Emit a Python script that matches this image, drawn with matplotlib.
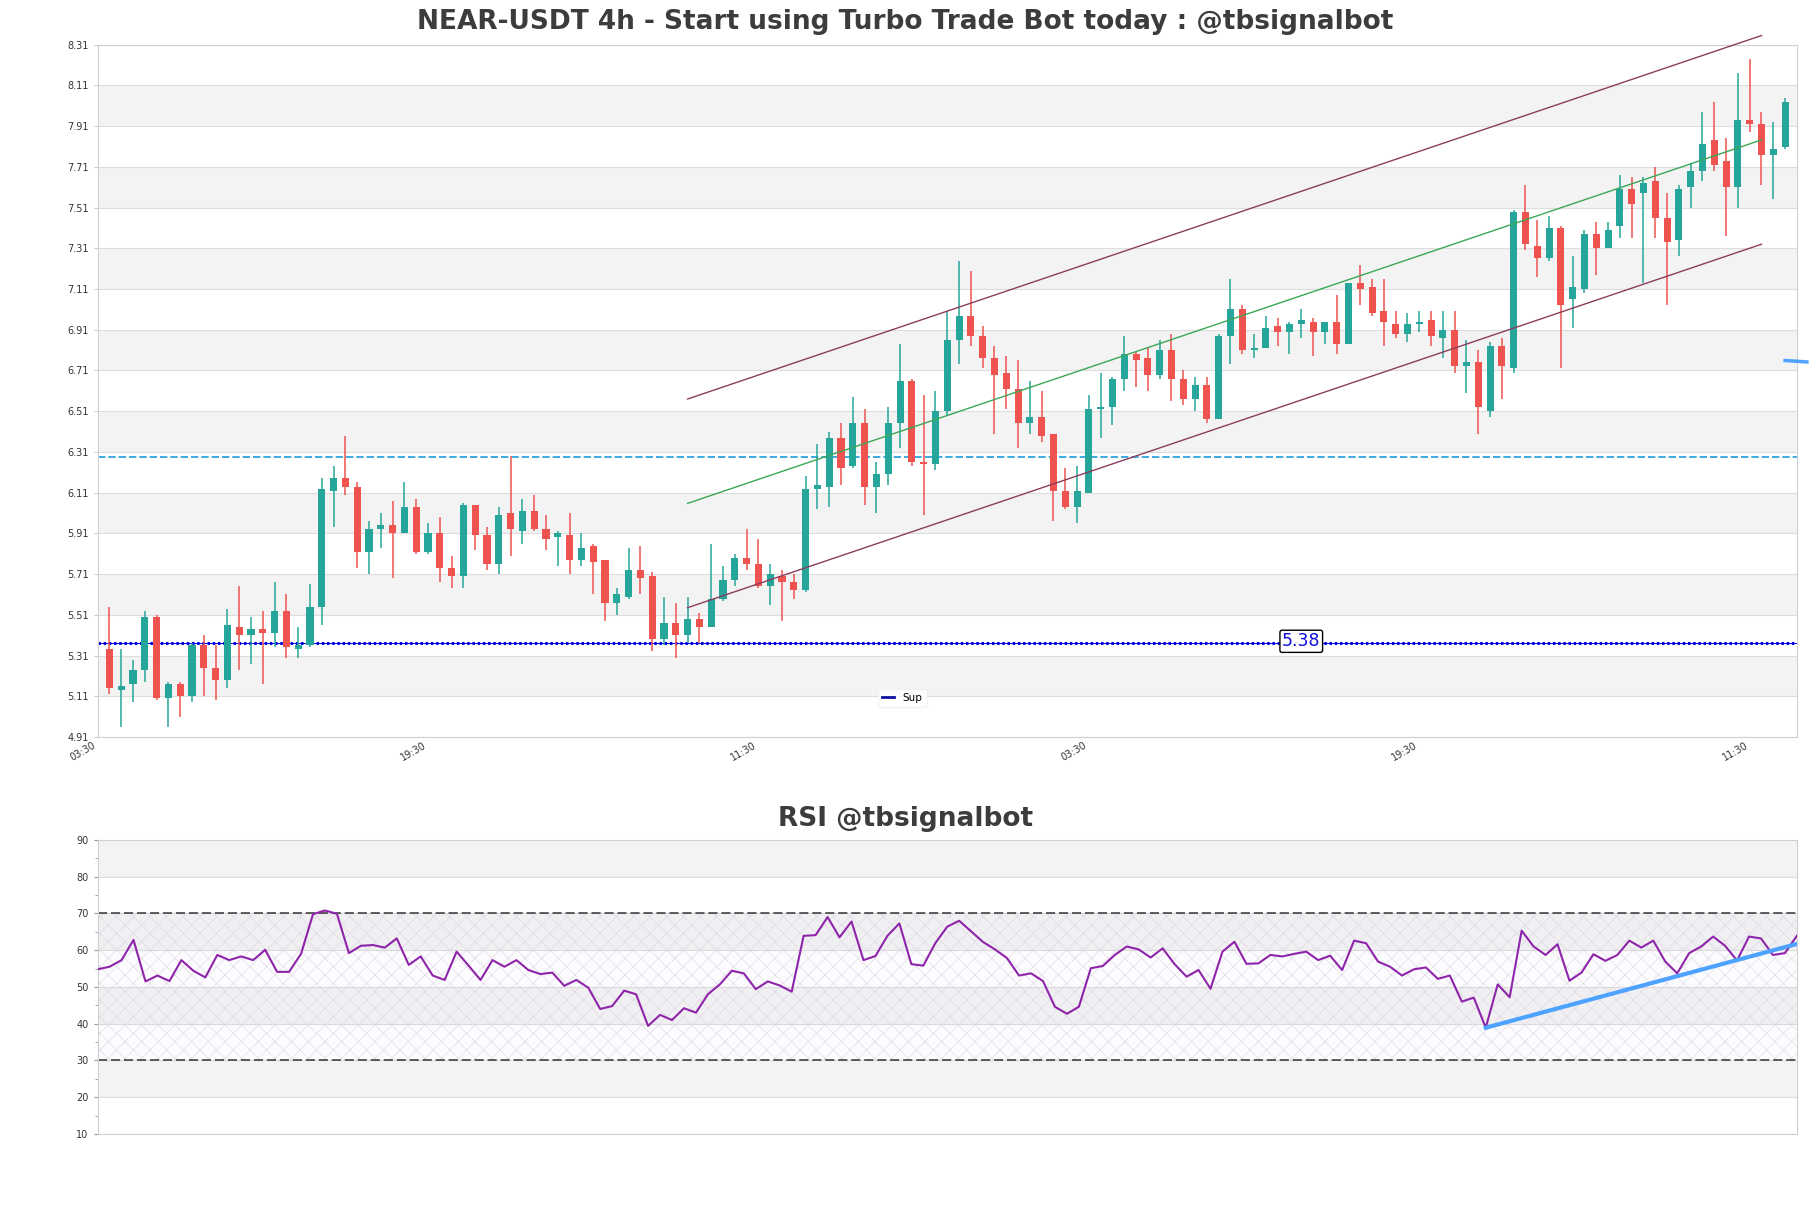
import numpy as np
import matplotlib
matplotlib.use('Agg')
import matplotlib.pyplot as plt
from matplotlib.lines import Line2D

# candle data (4h NEAR-USDT)
opens = [5.34, 5.14, 5.17, 5.24, 5.50, 5.10, 5.17, 5.11, 5.36, 5.25,
         5.19, 5.45, 5.41, 5.44, 5.42, 5.53, 5.34, 5.36, 5.55, 6.12,
         6.18, 6.14, 5.82, 5.93, 5.95, 5.91, 6.04, 5.82, 5.91, 5.74,
         5.70, 6.05, 5.90, 5.76, 6.01, 5.92, 6.02, 5.93, 5.89, 5.90,
         5.78, 5.85, 5.78, 5.57, 5.60, 5.73, 5.70, 5.39, 5.47, 5.41,
         5.49, 5.45, 5.59, 5.68, 5.79, 5.76, 5.65, 5.70, 5.67, 5.63,
         6.13, 6.14, 6.38, 6.24, 6.45, 6.14, 6.20, 6.45, 6.66, 6.26,
         6.25, 6.51, 6.86, 6.98, 6.88, 6.77, 6.70, 6.62, 6.45, 6.48,
         6.40, 6.12, 6.04, 6.11, 6.52, 6.53, 6.67, 6.79, 6.77, 6.69,
         6.81, 6.67, 6.57, 6.64, 6.47, 6.88, 7.01, 6.81, 6.82, 6.93,
         6.90, 6.94, 6.95, 6.90, 6.95, 6.84, 7.14, 7.12, 7.00, 6.94,
         6.89, 6.94, 6.96, 6.87, 6.91, 6.73, 6.75, 6.51, 6.83, 6.72,
         7.49, 7.32, 7.26, 7.41, 7.06, 7.11, 7.38, 7.31, 7.42, 7.60,
         7.58, 7.64, 7.46, 7.35, 7.61, 7.69, 7.84, 7.74, 7.61, 7.94,
         7.92, 7.77, 7.81]
highs = [5.55, 5.34, 5.29, 5.53, 5.51, 5.18, 5.18, 5.37, 5.41, 5.36,
         5.54, 5.65, 5.50, 5.53, 5.67, 5.61, 5.45, 5.66, 6.18, 6.24,
         6.39, 6.16, 5.97, 6.01, 6.07, 6.16, 6.08, 5.96, 5.99, 5.80,
         6.06, 6.05, 5.94, 6.04, 6.29, 6.08, 6.10, 6.00, 5.92, 6.01,
         5.91, 5.86, 5.78, 5.64, 5.84, 5.85, 5.72, 5.60, 5.57, 5.60,
         5.52, 5.86, 5.75, 5.81, 5.93, 5.88, 5.76, 5.73, 5.71, 6.19,
         6.35, 6.41, 6.45, 6.58, 6.52, 6.26, 6.53, 6.84, 6.67, 6.59,
         6.61, 7.00, 7.25, 7.20, 6.93, 6.83, 6.78, 6.76, 6.66, 6.61,
         6.40, 6.23, 6.24, 6.59, 6.70, 6.68, 6.88, 6.80, 6.82, 6.86,
         6.89, 6.71, 6.68, 6.68, 6.89, 7.16, 7.03, 6.89, 6.98, 6.97,
         6.95, 7.01, 6.97, 6.95, 7.08, 7.14, 7.23, 7.16, 7.16, 7.00,
         6.99, 7.00, 7.00, 7.00, 7.00, 6.86, 6.81, 6.85, 6.87, 7.50,
         7.62, 7.45, 7.47, 7.42, 7.27, 7.40, 7.44, 7.44, 7.67, 7.66,
         7.66, 7.71, 7.58, 7.62, 7.73, 7.98, 8.03, 7.85, 8.17, 8.24,
         7.98, 7.93, 8.05]
lows = [5.12, 4.96, 5.08, 5.18, 5.09, 4.96, 5.01, 5.08, 5.11, 5.09,
        5.15, 5.24, 5.27, 5.17, 5.35, 5.30, 5.30, 5.35, 5.46, 5.94,
        6.10, 5.74, 5.71, 5.84, 5.69, 5.91, 5.81, 5.81, 5.67, 5.64,
        5.64, 5.83, 5.73, 5.71, 5.80, 5.86, 5.92, 5.83, 5.75, 5.71,
        5.75, 5.61, 5.48, 5.51, 5.59, 5.61, 5.33, 5.36, 5.30, 5.37,
        5.37, 5.45, 5.58, 5.65, 5.73, 5.64, 5.56, 5.48, 5.59, 5.62,
        6.03, 6.04, 6.15, 6.23, 6.05, 6.01, 6.15, 6.33, 6.24, 6.00,
        6.22, 6.49, 6.74, 6.83, 6.72, 6.40, 6.52, 6.33, 6.40, 6.36,
        5.97, 6.03, 5.96, 6.11, 6.38, 6.44, 6.61, 6.63, 6.61, 6.67,
        6.56, 6.54, 6.51, 6.45, 6.47, 6.74, 6.79, 6.77, 6.82, 6.83,
        6.79, 6.87, 6.78, 6.84, 6.79, 6.84, 7.03, 6.98, 6.83, 6.87,
        6.85, 6.90, 6.83, 6.77, 6.70, 6.60, 6.40, 6.48, 6.57, 6.70,
        7.30, 7.17, 7.25, 6.72, 6.92, 7.09, 7.18, 7.31, 7.36, 7.36,
        7.14, 7.36, 7.03, 7.27, 7.51, 7.64, 7.69, 7.37, 7.51, 7.88,
        7.62, 7.55, 7.80]
closes = [5.15, 5.16, 5.24, 5.50, 5.10, 5.17, 5.11, 5.36, 5.25, 5.19,
          5.46, 5.41, 5.44, 5.42, 5.53, 5.35, 5.36, 5.55, 6.13, 6.18,
          6.14, 5.82, 5.93, 5.95, 5.91, 6.04, 5.82, 5.91, 5.74, 5.70,
          6.05, 5.90, 5.76, 6.00, 5.93, 6.02, 5.93, 5.88, 5.91, 5.78,
          5.84, 5.77, 5.57, 5.61, 5.73, 5.69, 5.39, 5.47, 5.41, 5.49,
          5.45, 5.59, 5.68, 5.79, 5.76, 5.65, 5.71, 5.67, 5.63, 6.13,
          6.15, 6.38, 6.23, 6.45, 6.14, 6.20, 6.45, 6.66, 6.26, 6.25,
          6.51, 6.86, 6.98, 6.88, 6.77, 6.69, 6.62, 6.45, 6.48, 6.39,
          6.12, 6.04, 6.12, 6.52, 6.53, 6.67, 6.79, 6.76, 6.69, 6.81,
          6.67, 6.57, 6.64, 6.47, 6.88, 7.01, 6.81, 6.82, 6.92, 6.90,
          6.94, 6.96, 6.90, 6.95, 6.84, 7.14, 7.11, 6.99, 6.95, 6.89,
          6.94, 6.95, 6.88, 6.91, 6.73, 6.75, 6.53, 6.83, 6.73, 7.49,
          7.33, 7.26, 7.41, 7.03, 7.12, 7.38, 7.31, 7.40, 7.60, 7.53,
          7.63, 7.46, 7.34, 7.60, 7.69, 7.82, 7.72, 7.61, 7.94, 7.92,
          7.77, 7.80, 8.03]

rsi = [54.8, 55.5, 57.3, 62.8, 51.5, 53.1, 51.6, 57.3, 54.4, 52.6,
       58.7, 57.3, 58.3, 57.3, 60.1, 54.1, 54.1, 59.0, 69.8, 70.8,
       69.9, 59.2, 61.2, 61.4, 60.7, 63.2, 56.0, 58.3, 53.1, 51.9,
       59.6, 55.8, 51.9, 57.3, 55.5, 57.3, 54.6, 53.5, 53.9, 50.3,
       51.9, 49.8, 44.0, 44.8, 49.0, 48.0, 39.4, 42.4, 41.0, 44.2,
       43.0, 48.0, 50.7, 54.4, 53.7, 49.4, 51.5, 50.4, 48.7, 63.9,
       64.1, 69.0, 63.5, 67.8, 57.3, 58.4, 63.9, 67.3, 56.2, 55.8,
       61.9, 66.4, 68.0, 65.1, 62.2, 60.2, 57.8, 53.1, 53.7, 51.6,
       44.6, 42.7, 44.6, 55.1, 55.7, 58.7, 61.0, 60.2, 58.0, 60.5,
       56.2, 52.8, 54.6, 49.5, 59.6, 62.3, 56.3, 56.4, 58.7, 58.3,
       59.0, 59.6, 57.3, 58.5, 54.6, 62.6, 61.9, 56.9, 55.5, 53.1,
       54.8, 55.3, 52.2, 53.1, 46.0, 47.1, 38.9, 50.7, 47.2, 65.3,
       61.0, 58.7, 61.6, 51.7, 53.9, 58.9, 57.1, 58.7, 62.6, 60.7,
       62.6, 56.9, 53.7, 59.2, 61.0, 63.7, 61.2, 57.2, 63.7, 63.2,
       58.7, 59.2, 63.9]

tick_labels = ['03:30', '19:30', '11:30', '03:30', '19:30', '11:30']

sup_level = 5.37
sup_label = '5.38'
resist_level = 6.285

# trend channel: start/end candle index and prices
channel_idx = [49, 140]
channel_upper = [6.57, 8.355]
channel_lower = [5.545, 7.33]

# last price marker on the right edge
marker_idx = [142, 143.85]
marker_price = [6.759, 6.752]

# rsi trendline
rsi_trend_idx = [116, 142]
rsi_trend_val = [38.9, 61.7]

n = len(closes)
x = np.arange(n)
up = np.array(closes) >= np.array(opens)
green, red = '#26a69a', '#ef5350'
band = '#f3f3f3'
gridc = '#dddddd'
textc = '#3c3c3c'

fig = plt.figure(figsize=(18.11, 12.08), dpi=100)
ax = fig.add_axes([0.0539, 0.3899, 0.9383, 0.5731])
ax2 = fig.add_axes([0.0539, 0.0613, 0.9383, 0.2434])

# ---- main price panel ----
yt = np.round(np.arange(4.91, 8.32, 0.2), 2)
ax.set_ylim(4.91, 8.31)
ax.set_xlim(-1, n)
for i in range(1, len(yt) - 1, 2):
    ax.axhspan(yt[i], yt[i + 1], color=band, zorder=0, lw=0)
for v in yt:
    ax.axhline(v, color=gridc, lw=0.8, zorder=0.5)

colors = [green if u else red for u in up]
ax.vlines(x, lows, highs, colors=colors, lw=1.1, zorder=2)
bottoms = np.minimum(opens, closes)
heights = np.maximum(np.abs(np.array(closes) - np.array(opens)), 0.006)
ax.bar(x, heights, bottom=bottoms, width=0.6, color=colors, zorder=3)

ax.axhline(resist_level, color='#1e9bd7', lw=1.2, dashes=(4.4, 1.8), zorder=1.5)
ax.axhline(sup_level, color='#0000dd', lw=0.7, zorder=1.5)
ax.axhline(sup_level, color='#0000dd', lw=2.2, linestyle=(0, (0.8, 0.9)), zorder=1.5)
ax.text(101, sup_level + 0.01, sup_label, color='#1010dd', fontsize=12.5,
        ha='center', va='center', zorder=5,
        bbox=dict(boxstyle='round,pad=0.12', fc='white', ec='black', lw=1))

ax.plot(channel_idx, channel_upper, color='#8c3d5c', lw=1, clip_on=False, zorder=4)
ax.plot(channel_idx, channel_lower, color='#8c3d5c', lw=1, clip_on=False, zorder=4)
ax.plot(channel_idx, [(a + b) / 2 for a, b in zip(channel_upper, channel_lower)],
        color='#3aa757', lw=1, clip_on=False, zorder=4)
ax.plot(marker_idx, marker_price, color='#4da3ff', lw=2.5, clip_on=False, zorder=4)

ax.set_yticks(yt)
ax.set_yticklabels(['%.2f' % v for v in yt], fontsize=7, color='#333333')
ax.set_xticks(np.arange(-1, n, 28))
ax.set_xticklabels(tick_labels, rotation=30, ha='right', fontsize=7, color='#333333')
ax.tick_params(axis='x', length=0, pad=2)
ax.tick_params(axis='y', length=3, color='#cccccc')
for s in ax.spines.values():
    s.set_color('#d0d0d0')

leg = ax.legend(handles=[Line2D([], [], color='#1010a0', lw=2)], labels=['Sup'],
                loc='lower left', bbox_to_anchor=(0.459, 0.043), borderaxespad=0,
                fontsize=7.5, frameon=True, fancybox=True, handlelength=1.2)
leg.get_frame().set_edgecolor('#f0f0f0')
leg.get_frame().set_facecolor('white')

fig.text(0.5, 0.9818, 'NEAR-USDT 4h - Start using Turbo Trade Bot today : @tbsignalbot',
         ha='center', va='center', fontsize=19, fontweight='bold', color=textc)

# ---- RSI panel ----
ax2.set_ylim(10, 90)
ax2.set_xlim(0, n - 1)
for lo in (20, 40, 60, 80):
    ax2.axhspan(lo, lo + 10, color=band, zorder=0, lw=0)
for v in range(10, 91, 10):
    ax2.axhline(v, color=gridc, lw=0.8, zorder=0.5)
plt.rcParams['hatch.linewidth'] = 0.4
ax2.axhspan(30, 70, facecolor=(0.55, 0.3, 0.6, 0.02), edgecolor='#ddd5e4',
            hatch='xx', lw=0, zorder=0.6)
ax2.axhline(70, color='#333333', lw=1.1, dashes=(6, 2.5), zorder=1)
ax2.axhline(30, color='#333333', lw=1.1, dashes=(6, 2.5), zorder=1)
ax2.plot(x, rsi, color='#8e24aa', lw=1.5, zorder=3)
ax2.plot(rsi_trend_idx, rsi_trend_val, color='#4da3ff', lw=3, zorder=4)

ax2.set_yticks(range(10, 91, 10))
ax2.set_yticks(range(15, 90, 10), minor=True)
ax2.tick_params(axis='y', labelsize=7, labelcolor='#333333', length=3, color='#999999')
ax2.tick_params(axis='y', which='minor', length=2, color='#999999')
ax2.set_xticks([])
for s in ax2.spines.values():
    s.set_color('#d0d0d0')

fig.text(0.5, 0.322, 'RSI @tbsignalbot', ha='center', va='center',
         fontsize=19, fontweight='bold', color=textc)

fig.savefig('out.png', dpi=100)
